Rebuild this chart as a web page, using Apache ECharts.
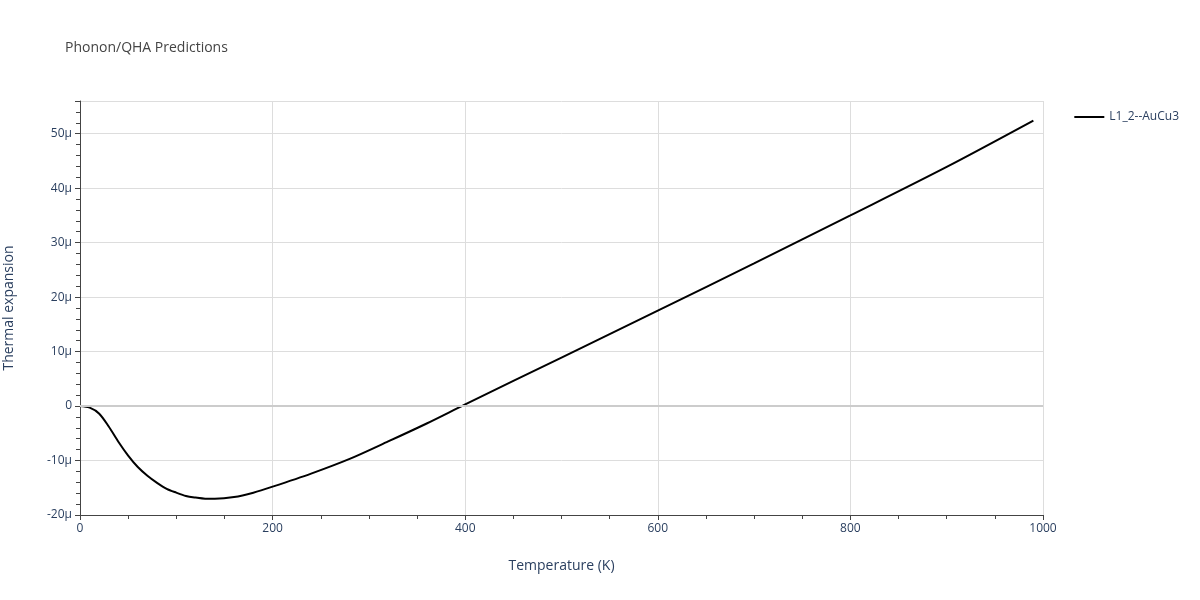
<!DOCTYPE html>
<html><head><meta charset="utf-8">
<script src="https://cdn.jsdelivr.net/npm/echarts@6/dist/echarts.min.js"></script>
<style>html,body{margin:0;padding:0;background:#fff}#c{width:1200px;height:600px}</style>
</head><body><div id="c"></div>
<script>
const temps = [0,10,20,30,40,50,60,70,80,90,100,110,120,130,140,160,180,200,240,280,320,360,400,500,600,700,800,900,990];
const alphaMicro = [0,-0.3,-1.4,-3.8,-6.6,-9.1,-11.2,-12.8,-14.1,-15.2,-15.9,-16.5,-16.8,-17.0,-17.0,-16.7,-15.9,-14.8,-12.4,-9.7,-6.5,-3.2,0.3,8.9,17.5,26.2,35.0,43.9,52.4];
const seriesName = 'L1_2--AuCu3';
const font = '"Open Sans", sans-serif';
const c = echarts.init(document.getElementById('c'));
c.setOption({
  animation:false,
  title:{text:'Phonon/QHA Predictions',left:60,top:36,textStyle:{fontFamily:font,fontSize:14,fontWeight:'normal',color:'#444'}},
  legend:{right:16,top:106,icon:'path://M0,0H30V2H0Z',itemWidth:30,itemHeight:2,textStyle:{fontFamily:font,fontSize:12,color:'#2a3f5f'},data:[seriesName]},
  grid:{left:80,right:157,top:101,bottom:85,containLabel:false,outerBoundsMode:'none'},
  xAxis:{type:'value',min:0,max:1000,interval:200,name:'Temperature (K)',nameLocation:'middle',nameGap:44,
    nameTextStyle:{fontFamily:font,fontSize:14,color:'#2a3f5f'},
    axisLine:{show:true,onZero:false,lineStyle:{color:'#444'}},axisTick:{show:true,length:5,lineStyle:{color:'#444'}},
    minorTick:{show:true,splitNumber:4,length:4,lineStyle:{color:'#444'}},
    axisLabel:{fontFamily:font,fontSize:12,color:'#2a3f5f',formatter:v=>String(v)},splitLine:{show:true,lineStyle:{color:'#ddd'}}},
  yAxis:{type:'value',min:-20,max:56,interval:10,name:'Thermal expansion',nameLocation:'middle',nameGap:64,
    nameTextStyle:{fontFamily:font,fontSize:14,color:'#2a3f5f'},
    axisLine:{show:true,onZero:false,lineStyle:{color:'#444'}},axisTick:{show:true,length:5,lineStyle:{color:'#444'}},
    minorTick:{show:true,splitNumber:5,length:4,lineStyle:{color:'#444'}},
    axisLabel:{fontFamily:font,fontSize:12,color:'#2a3f5f',formatter:v=>{const r=Math.round(v);if(Math.abs(v-r)>1e-6||r%10!==0)return '';return r===0?'0':r+'μ';},showMaxLabel:false},
    splitLine:{show:true,lineStyle:{color:'#ddd'}}},
  series:[{name:seriesName,type:'line',smooth:0.3,showSymbol:false,data:temps.map((t,i)=>[t,alphaMicro[i]]),lineStyle:{color:'#000',width:2},itemStyle:{color:'#000'},
    markLine:{silent:true,symbol:'none',label:{show:false},lineStyle:{color:'#ccc',width:2,type:'solid'},data:[{yAxis:0}]}}]
});
</script></body></html>
